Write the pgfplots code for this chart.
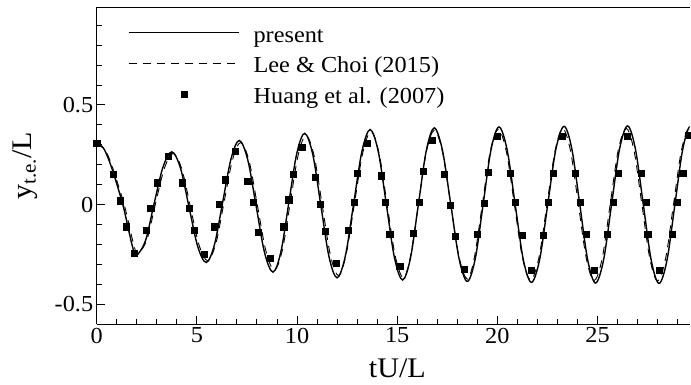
\documentclass[border=0pt]{standalone}
\usepackage{fontspec}
\setmainfont{Liberation Serif}[FakeStretch=1.06]
\usepackage{pgfplots}
\pgfplotsset{compat=1.18}
\pgfplotsset{
  lineleg/.style={legend image code/.code={\draw[##1] (0bp,4.5bp) -- (110bp,4.5bp); \path (124bp,0bp);}},
  markleg/.style={legend image code/.code={\draw[##1] plot coordinates {(55bp,3.5bp)}; \path (0bp,0bp) (124bp,0bp);}},
}

% trailing-edge displacement histories
\pgfplotstableread{
t y
0     0.305
0.33  0.285
0.66  0.21
1.0   0.105
1.33  -0.01
1.6   -0.13
1.8   -0.215
1.98  -0.255
2.44  -0.179
2.865 0.005
3.31  0.189
3.75  0.265
4.18  0.184
4.61  -0.0125
5.04  -0.209
5.47  -0.29
5.88  -0.200
6.295 0.016
6.71  0.232
7.12  0.322
7.54  0.225
7.96  -0.008
8.38  -0.241
8.80  -0.338
9.195 -0.236
9.59  0.01
9.985 0.256
10.38 0.358
10.785 0.252
11.19 -0.0045
11.595 -0.261
12.0  -0.367
12.41 -0.258
12.825 0.005
13.24 0.268
13.65 0.377
14.055 0.266
14.46 -0.0005
14.865 -0.267
15.27 -0.378
15.665 -0.266
16.06 0.0035
16.455 0.273
16.85 0.385
17.26 0.272
17.675 0
18.09 -0.272
18.5  -0.385
18.895 -0.2715
19.29 0.0025
19.685 0.2765
20.08 0.39
20.485 0.276
20.89 0
21.295 -0.276
21.7  -0.39
22.11 -0.275
22.515 0.0015
22.92 0.278
23.33 0.393
23.72 0.278
24.115 0
24.51 -0.278
24.9  -0.393
25.3  -0.278
25.7  0.001
26.1  0.28
26.5  0.395
26.89 0.279
27.285 0
27.68 -0.279
28.07 -0.395
28.465 -0.279
28.86 0
29.255 0.279
29.65 0.395
30.05 0.28
}\present

\pgfplotstableread{
t y
0     0.30
0.4   0.278
0.73  0.204
1.07  0.10
1.40  -0.01
1.67  -0.126
1.87  -0.208
2.05  -0.247
2.51  -0.174
2.935 0.005
3.38  0.183
3.82  0.257
4.25  0.178
4.68  -0.012
5.11  -0.203
5.54  -0.281
5.95  -0.194
6.365 0.016
6.78  0.225
7.19  0.312
7.61  0.218
8.03  -0.008
8.45  -0.234
8.87  -0.328
9.265 -0.229
9.66  0.01
10.055 0.248
10.45 0.347
10.855 0.244
11.26 -0.004
11.665 -0.253
12.07 -0.356
12.45 -0.25
12.865 0.005
13.28 0.26
13.69 0.366
14.095 0.258
14.5  0
14.905 -0.259
15.31 -0.367
15.665 -0.258
16.06 0.003
16.455 0.265
16.85 0.373
17.26 0.264
17.675 0
18.09 -0.264
18.5  -0.373
18.855 -0.263
19.25 0.002
19.645 0.268
20.04 0.378
20.445 0.268
20.85 0
21.255 -0.268
21.66 -0.378
22.07 -0.267
22.475 0.001
22.88 0.27
23.26 0.381
23.65 0.27
24.045 0
24.44 -0.27
24.83 -0.381
25.23 -0.27
25.63 0.001
26.03 0.272
26.43 0.383
26.82 0.271
27.215 0
27.61 -0.271
28.0  -0.383
28.395 -0.271
28.79 0
29.185 0.271
29.58 0.383
29.97 0.27
}\leechoi

\pgfplotstableread{
t y
0     0.31
0.83  0.153
1.17  0.02
1.47  -0.11
1.88  -0.245
2.47  -0.13
2.7   -0.017
3.03  0.11
3.58  0.245
4.26  0.11
4.6   -0.017
4.87  -0.13
5.38  -0.25
5.88  -0.11
6.13  0.003
6.43  0.125
6.91  0.27
7.54  0.117
7.83  0.012
8.08  -0.138
8.67  -0.27
9.33  -0.11
9.58  0.025
9.81  0.154
10.23 0.29
10.91 0.137
11.16 0.002
11.41 -0.133
11.95 -0.295
12.55 -0.13
12.84 0.012
13.0  0.158
13.52 0.31
14.2  0.145
14.4  0.012
14.63 -0.147
15.12 -0.31
15.8  -0.145
16.08 0.013
16.3  0.167
16.75 0.325
17.33 0.153
17.65 -0.002
17.9  -0.158
18.35 -0.323
19.0  -0.15
19.33 0.008
19.53 0.162
20.0  0.342
20.62 0.158
20.87 0.012
21.22 -0.153
21.68 -0.328
22.28 -0.153
22.53 0.012
22.78 0.158
23.25 0.342
23.88 0.158
24.13 0.012
24.45 -0.15
24.83 -0.328
25.5  -0.15
25.8  0.012
26.05 0.158
26.47 0.342
27.17 0.158
27.42 0.012
27.5  -0.148
28.08 -0.328
28.72 -0.15
28.98 0.012
29.25 0.158
29.53 0.35
}\huang

\begin{document}
\begin{tikzpicture}
\begin{axis}[
  name=ax,
  scale only axis, width=593bp, height=317bp,
  xmin=0, xmax=29.6, ymin=-0.6, ymax=0.99,
  axis lines*=left,
  axis line style={line width=1.3bp},
  every tick/.style={black, line width=1bp},
  tick align=inside,
  major tick length=8bp, minor tick length=5bp,
  xtick={0,5,10,15,20,25}, xticklabels={0,5,10,15,20,25},
  minor xtick={1,2,3,4,6,7,8,9,11,12,13,14,16,17,18,19,21,22,23,24,26,27,28,29},
  ytick={-0.5,0,0.5}, yticklabels={-0.5,0,0.5},
  minor ytick={-0.4,-0.3,-0.2,-0.1,0.1,0.2,0.3,0.4,0.6,0.7,0.8,0.9},
  tick label style={font=\fontsize{23}{23}\selectfont},
  xlabel={tU/L},
  ylabel={y\textsubscript{t.e.}/L},
  label style={font=\fontsize{28.5}{28.5}\selectfont},
  xlabel style={at={(axis description cs:0.507,-0.138)}, anchor=center},
  ylabel style={at={(axis description cs:-0.12,0.5)}, anchor=center},
  legend cell align=left,
  legend style={at={(axis description cs:0,1)}, anchor=north west,
    xshift=28.3bp, yshift=-16bp, draw=none, fill=none,
    font=\fontsize{23}{23}\selectfont, row sep=7.5bp,
    nodes={inner sep=0pt, text height=17bp, text depth=6bp}},
]
\addplot[black, line width=1.4bp, smooth, tension=0.55, lineleg]
  table[x=t, y=y] {\present};
\addlegendentry{present}
\addplot[black, line width=0.9bp, dash pattern=on 8bp off 6bp, smooth, tension=0.55, lineleg]
  table[x=t, y=y] {\leechoi};
\addlegendentry{Lee \& Choi (2015)}
\addplot[only marks, mark=square*, mark size=3.1bp, black, markleg]
  table[x=t, y=y] {\huang};
\addlegendentry{Huang et al. (2007)}
\end{axis}
\draw[line width=1.3bp] (ax.north west) -- (ax.north east);
\pgfresetboundingbox
\path[use as bounding box] (-96.7bp,-60.7bp) rectangle (594.3bp,324.3bp);
\end{tikzpicture}
\end{document}
